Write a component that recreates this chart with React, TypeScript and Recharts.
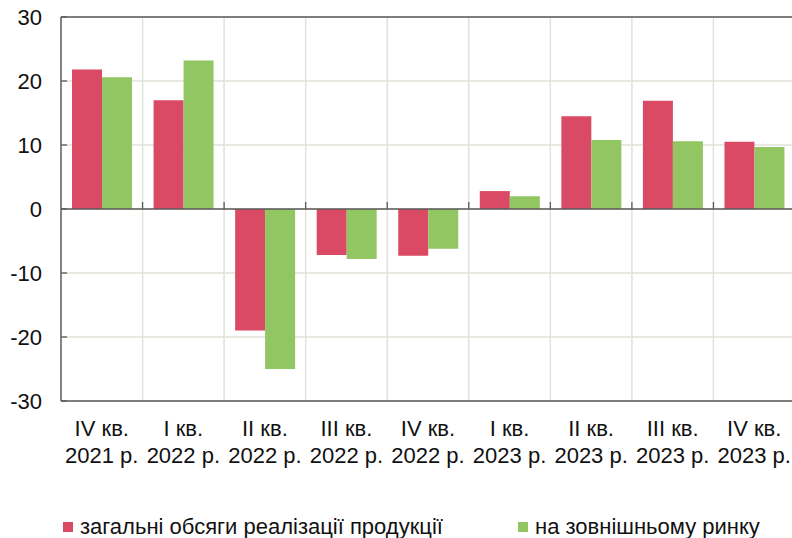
import React from 'react';
import {
  BarChart,
  Bar,
  XAxis,
  YAxis,
  CartesianGrid,
  ReferenceLine,
  Legend,
} from 'recharts';

const quarters = ['IV кв.', 'I кв.', 'II кв.', 'III кв.', 'IV кв.', 'I кв.', 'II кв.', 'III кв.', 'IV кв.'];
const years = ['2021 р.', '2022 р.', '2022 р.', '2022 р.', '2022 р.', '2023 р.', '2023 р.', '2023 р.', '2023 р.'];
const totalSales = [21.8, 17.0, -19.0, -7.2, -7.3, 2.8, 14.5, 16.9, 10.5];
const externalMarket = [20.6, 23.2, -25.0, -7.8, -6.2, 2.0, 10.8, 10.6, 9.7];
const yTicks = [-30, -20, -10, 0, 10, 20, 30];
const seriesNames = ['загальні обсяги реалізації продукції', 'на зовнішньому ринку'];

const RED = '#db4a64';
const GREEN = '#92c663';
const AXIS = '#5a5a5a';
const GRID = '#e2e2d8';
const FONT = '"Liberation Sans", Arial, sans-serif';

const data = quarters.map((q, i) => ({
  key: i,
  quarter: q,
  year: years[i],
  total: totalSales[i],
  external: externalMarket[i],
}));

// left edge of every category except the first one
const boundaries = data.slice(1).map((d) => d.key);

const YTick = ({ x, y, payload }: any) => (
  <g>
    <line x1={x} x2={x + 6} y1={y} y2={y} stroke={AXIS} strokeWidth={1.3} />
    <text x={x - 19} y={y} dy="0.36em" textAnchor="end" fontSize={22} fill="#111" fontFamily={FONT}>
      {payload.value}
    </text>
  </g>
);

const XTick = ({ x, y, payload }: any) => {
  const d = data[payload.value];
  return (
    <text x={x} y={y} textAnchor="middle" fontSize={22} fill="#111" fontFamily={FONT}>
      <tspan x={x} dy={35}>{d.quarter}</tspan>
      <tspan x={x} dy={27}>{d.year}</tspan>
    </text>
  );
};

const LegendContent = ({ payload }: any) => (
  <div style={{ display: 'flex', paddingLeft: 63, fontFamily: FONT, fontSize: 22, color: '#111', lineHeight: '26px' }}>
    {(payload || []).map((p: any, i: number) => (
      <div key={i} style={{ display: 'flex', alignItems: 'center', width: i === 0 ? 455 : 'auto' }}>
        <span style={{ display: 'inline-block', width: 10, height: 10, background: p.color, marginRight: 7 }} />
        <span>{p.value}</span>
      </div>
    ))}
  </div>
);

export default function App() {
  return (
    <div style={{ position: 'absolute', left: 0, top: 0, width: 792, height: 538, overflow: 'hidden', background: '#fff' }}>
      <BarChart
        width={800}
        height={538}
        data={data}
        margin={{ top: 17, right: 5, left: 0, bottom: -2 }}
        barCategoryGap="13.5%"
        barGap={0}
      >
        <CartesianGrid vertical={false} stroke={GRID} strokeWidth={1.5} />
        <XAxis
          dataKey="key"
          height={113}
          tickLine={false}
          tickSize={0}
          tickMargin={0}
          axisLine={{ stroke: AXIS, strokeWidth: 1.5 }}
          tick={<XTick />}
          interval={0}
        />
        <YAxis
          width={61}
          domain={[-30, 30]}
          ticks={yTicks}
          interval={0}
          tickLine={false}
          tickSize={0}
          tickMargin={0}
          axisLine={{ stroke: AXIS, strokeWidth: 1.5 }}
          tick={<YTick />}
        />
        {boundaries.map((b) => (
          <ReferenceLine key={'v' + b} x={b} position="start" stroke={GRID} strokeWidth={1.5} />
        ))}
        <Legend verticalAlign="bottom" content={<LegendContent />} />
        <Bar name={seriesNames[0]} dataKey="total" fill={RED} isAnimationActive={false} />
        <Bar name={seriesNames[1]} dataKey="external" fill={GREEN} isAnimationActive={false} />
        <ReferenceLine y={30} stroke={AXIS} strokeWidth={1.5} />
        <ReferenceLine y={0} stroke={AXIS} strokeWidth={1.3} />
        {boundaries.map((b) => (
          <ReferenceLine
            key={'t' + b}
            position="start"
            segment={[{ x: b, y: 0 }, { x: b, y: 1.1 }]}
            stroke={AXIS}
            strokeWidth={1.3}
          />
        ))}
      </BarChart>
    </div>
  );
}
